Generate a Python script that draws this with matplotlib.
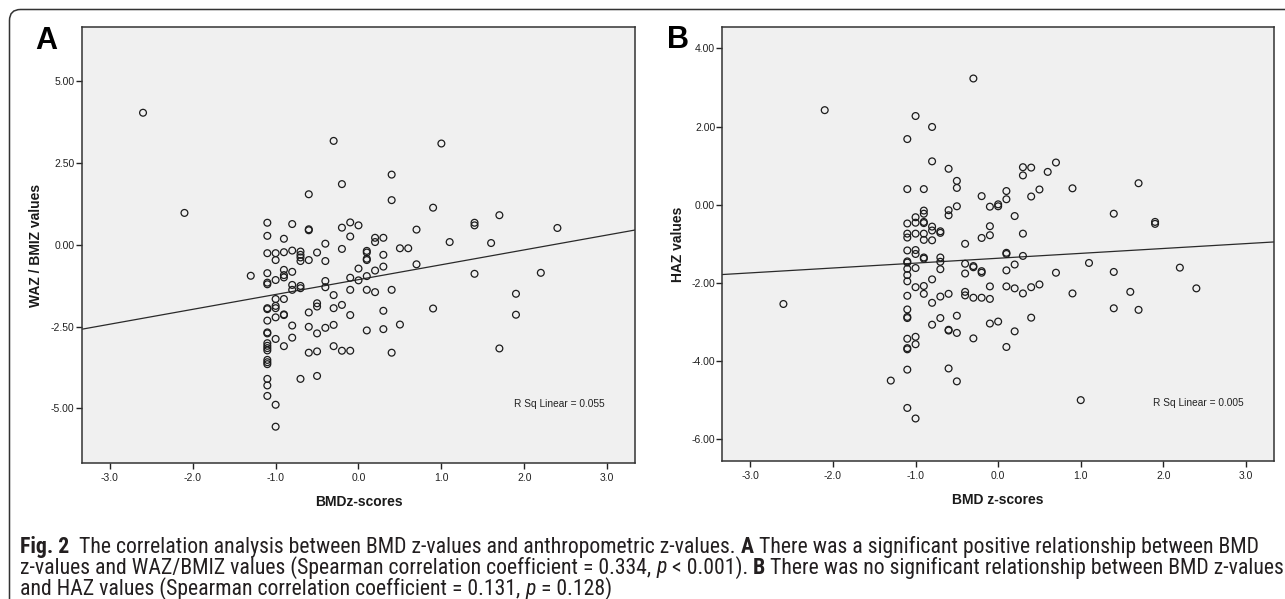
import numpy as np
import matplotlib
matplotlib.use("Agg")
import matplotlib.pyplot as plt
from matplotlib import font_manager
from matplotlib.patches import FancyBboxPatch
from matplotlib.transforms import IdentityTransform

# Panel A: BMD z-scores vs WAZ / BMIZ values
bmd_a = [-2.6, -2.1, -0.3, 1.0, 0.4, -0.2, -0.6, 0.4, 0.9, 1.7,
         1.4, 1.4, 2.4, -1.1, -0.8, -0.6, -0.6, -0.2, -0.1, 0.0,
         0.7, -1.1, -0.9, -0.1, 0.2, 0.2, 0.3, 1.1, 1.6, -0.4,
         -1.1, -1.0, -1.0, -0.9, -0.8, -0.7, -0.7, -0.7, -0.7, -0.6,
         -0.5, -0.4, -0.2, 0.1, 0.1, 0.1, 0.1, 0.3, 0.5, 0.6,
         0.0, 0.2, 0.3, 0.7, -1.3, -1.1, -1.1, -1.1, -1.0, -0.9,
         -0.9, -0.9, -0.8, -0.8, -0.8, -0.7, -0.7, -0.4, -0.4, -0.1,
         -0.1, 0.0, 0.1, 0.1, 0.2, 0.4, -0.3, 1.4, 2.2, 1.9,
         -1.0, -0.9, -1.1, -1.1, -1.0, -1.0, -0.9, -0.9, -1.0, -0.5,
         -0.5, -0.3, -0.2, -0.6, -0.1, 0.3, 0.9, 1.9, -1.1, -0.8,
         -0.6, -0.5, -0.4, -0.3, 0.1, 0.3, 0.5, -1.1, -1.1, -0.8,
         -1.0, -1.1, -1.1, -1.1, -1.1, -0.9, -0.3, -0.2, -0.1, -0.6,
         -0.5, 0.4, 1.7, -1.1, -1.1, -1.1, -0.7, -0.5, -1.1, -1.1,
         -1.1, -1.0, -1.0]
waz_a = [4.03, 0.97, 3.17, 3.09, 2.14, 1.85, 1.54, 1.36, 1.13, 0.90,
         0.67, 0.59, 0.51, 0.67, 0.63, 0.47, 0.44, 0.52, 0.68, 0.59,
         0.46, 0.27, 0.18, 0.25, 0.21, 0.08, 0.21, 0.08, 0.05, 0.03,
         -0.26, -0.26, -0.47, -0.23, -0.18, -0.21, -0.31, -0.39, -0.50, -0.47,
         -0.24, -0.50, -0.13, -0.19, -0.24, -0.43, -0.47, -0.31, -0.11, -0.11,
         -0.73, -0.79, -0.67, -0.60, -0.95, -0.87, -1.16, -1.21, -1.08, -0.77,
         -0.93, -1.00, -0.83, -1.23, -1.38, -1.26, -1.33, -1.11, -1.30, -1.01,
         -1.38, -1.09, -0.96, -1.38, -1.45, -1.38, -1.54, -0.89, -0.86, -1.50,
         -1.66, -1.66, -1.94, -1.97, -1.87, -1.94, -2.13, -2.15, -2.22, -1.79,
         -1.89, -1.94, -1.84, -2.07, -2.15, -2.02, -1.95, -2.14, -2.32, -2.47,
         -2.51, -2.71, -2.54, -2.45, -2.62, -2.58, -2.44, -2.68, -2.71, -2.84,
         -2.88, -3.01, -3.09, -3.16, -3.23, -3.10, -3.10, -3.24, -3.24, -3.30,
         -3.26, -3.30, -3.17, -3.52, -3.59, -3.65, -4.10, -4.01, -4.10, -4.30,
         -4.62, -4.89, -5.56]

# Panel B: BMD z-scores vs HAZ values
bmd_b = [-0.3, -2.1, -1.0, -0.8, -1.1, -0.8, -0.6, 0.3, 0.3, 0.4,
         0.7, 0.6, -0.5, -0.5, -1.1, -0.9, 0.5, 0.9, 1.7, 0.1,
         0.1, -0.2, 0.4, -0.5, -0.1, 0.0, 0.0, -0.6, -0.6, -0.9,
         -0.9, -1.0, 1.4, 0.2, -1.1, -1.0, -0.9, -0.9, -0.8, -0.8,
         -0.7, -0.7, -0.1, -0.1, 1.9, 1.9, -1.1, -1.1, -1.0, -0.9,
         -0.9, -0.8, -0.2, 0.3, -0.4, -1.1, -1.0, -1.0, 0.1, 0.1,
         -0.9, -0.9, -0.7, -0.7, 0.3, -1.1, -1.1, 1.1, -0.4, -0.3,
         -0.3, 0.2, -1.0, 2.2, -1.1, -1.1, -0.7, -0.2, -0.2, -0.4,
         0.1, 0.7, 1.4, -0.8, -1.1, -1.0, -0.9, -0.1, 0.1, 0.2,
         0.4, 0.5, 2.4, 1.6, -0.9, -1.1, -0.7, -0.6, -0.4, -0.4,
         -0.3, -0.2, -0.1, 0.3, 0.9, -2.6, -0.8, -1.1, 1.4, 1.7,
         -1.1, -1.1, -0.7, -0.5, 0.4, -0.8, -0.1, 0.0, -0.6, -0.6,
         -0.5, 0.2, -0.3, -1.0, -1.1, -1.0, -1.1, -1.1, 0.1, -0.6,
         -1.1, -1.3, -0.5, 1.0, -1.1, -1.0]
haz_b = [3.23, 2.42, 2.27, 1.99, 1.68, 1.11, 0.92, 0.96, 0.75, 0.95,
         1.08, 0.84, 0.61, 0.43, 0.40, 0.40, 0.39, 0.42, 0.55, 0.35,
         0.14, 0.22, 0.21, -0.04, -0.05, 0.01, -0.04, -0.14, -0.27, -0.15,
         -0.23, -0.32, -0.23, -0.29, -0.48, -0.46, -0.44, -0.47, -0.56, -0.66,
         -0.68, -0.72, -0.55, -0.78, -0.44, -0.49, -0.74, -0.84, -0.74, -0.74,
         -0.90, -0.91, -0.85, -0.74, -1.00, -1.17, -1.16, -1.26, -1.23, -1.26,
         -1.35, -1.38, -1.35, -1.46, -1.31, -1.45, -1.48, -1.49, -1.51, -1.57,
         -1.60, -1.53, -1.62, -1.61, -1.64, -1.80, -1.65, -1.70, -1.74, -1.76,
         -1.68, -1.74, -1.72, -1.91, -1.96, -2.11, -2.08, -2.09, -2.09, -2.14,
         -2.11, -2.04, -2.14, -2.23, -2.28, -2.33, -2.35, -2.28, -2.23, -2.32,
         -2.38, -2.38, -2.41, -2.27, -2.27, -2.54, -2.51, -2.68, -2.65, -2.69,
         -2.87, -2.90, -2.90, -2.84, -2.89, -3.07, -3.04, -2.99, -3.20, -3.22,
         -3.28, -3.24, -3.42, -3.38, -3.43, -3.57, -3.67, -3.70, -3.64, -4.19,
         -4.22, -4.50, -4.52, -5.00, -5.20, -5.47]

xticks = [-3.0, -2.0, -1.0, 0.0, 1.0, 2.0, 3.0]
yticks_a = [-5.0, -2.5, 0.0, 2.5, 5.0]
yticks_b = [-6.0, -4.0, -2.0, 0.0, 2.0, 4.0]
r2_a = 0.055
r2_b = 0.005

W, H = 1285, 599
plt.rcParams['axes.unicode_minus'] = False
plt.rcParams['font.family'] = ['Liberation Sans', 'DejaVu Sans']

names = {f.name for f in font_manager.fontManager.ttflist}
cap_font = next((n for n in ['Liberation Sans Narrow', 'Roboto Condensed', 'Roboto']
                 if n in names), 'DejaVu Sans')

fig = plt.figure(figsize=(W / 100, H / 100), dpi=100)


def px_box(left, top, right, bottom):
    return [left / W, 1 - bottom / H, (right - left) / W, (bottom - top) / H]


def panel(ax, x, y, ylim, yticks, r2, xlabel, ylabel, ylab_x, xlab_y):
    ax.set_facecolor('#f0f0f0')
    ax.scatter(x, y, s=24, facecolors='none', edgecolors='#1c1c1c',
               linewidths=0.9, zorder=3)
    k, b = np.polyfit(x, y, 1)
    xs = np.array([-3.34, 3.34])
    ax.plot(xs, k * xs + b, color='#2a2a2a', lw=0.9, zorder=2)
    ax.set_xlim(-3.34, 3.34)
    ax.set_ylim(*ylim)
    ax.set_xticks(xticks)
    ax.set_yticks(yticks)
    ax.set_xticklabels([f"{v:.1f}" for v in xticks])
    ax.set_yticklabels([f"{v:.2f}" for v in yticks])
    ax.tick_params(direction='out', length=4.3, width=1.0, labelsize=7.5,
                   color='#222222', labelcolor='#222222')
    ax.tick_params(axis='x', pad=3.2)
    ax.tick_params(axis='y', pad=0.8)
    for sp in ax.spines.values():
        sp.set_color('#333333')
        sp.set_linewidth(1.1)
    ax.text(0.781, 0.134, f"R Sq Linear = {r2:.3f}", transform=ax.transAxes,
            fontsize=7.3, color='#222222', ha='left', va='center')
    bb = ax.get_position()
    fig.text(ylab_x / W, bb.y0 + bb.height / 2, ylabel, rotation=90,
             fontsize=10, fontweight='bold', ha='center', va='center', color='#1a1a1a')
    fig.text(bb.x0 + bb.width / 2, 1 - xlab_y / H, xlabel,
             fontsize=10, fontweight='bold', ha='center', va='center', color='#1a1a1a')


ax1 = fig.add_axes(px_box(81.7, 27.3, 635.3, 462.7))
panel(ax1, bmd_a, waz_a, (-6.66, 6.64), yticks_a, r2_a,
      "BMDz-scores", "WAZ / BMIZ values", 36.5, 502)

ax2 = fig.add_axes(px_box(722.3, 27.3, 1274, 460.7))
panel(ax2, bmd_b, haz_b, (-6.55, 4.54), yticks_b, r2_b,
      "BMD z-scores", "HAZ values", 678, 500)

fig.text(46 / W, 1 - 41 / H, "A", fontsize=22, fontweight='bold', ha='center', va='center')
fig.text(678 / W, 1 - 40.5 / H, "B", fontsize=22, fontweight='bold', ha='center', va='center')

# rounded frame of the figure box (only top and left edges visible)
frame = FancyBboxPatch((9.5, -50), 1400, H - 9.5 + 50, boxstyle="round,pad=0,rounding_size=11",
                       transform=IdentityTransform(), fill=False, edgecolor='#333333', lw=1.1)
fig.patches.append(frame)

# caption
renderer = fig.canvas.get_renderer()
cap_lines = [
    [("Fig. 2", 'bold', 'normal'),
     ("  The correlation analysis between BMD z-values and anthropometric z-values. ", 'normal', 'normal'),
     ("A", 'bold', 'normal'),
     (" There was a significant positive relationship between BMD", 'normal', 'normal')],
    [("z-values and WAZ/BMIZ values (Spearman correlation coefficient = 0.334, ", 'normal', 'normal'),
     ("p", 'normal', 'italic'),
     (" < 0.001). ", 'normal', 'normal'),
     ("B", 'bold', 'normal'),
     (" There was no significant relationship between BMD z-values", 'normal', 'normal')],
    [("and HAZ values (Spearman correlation coefficient = 0.131, ", 'normal', 'normal'),
     ("p", 'normal', 'italic'),
     (" = 0.128)", 'normal', 'normal')],
]
cap_y = [547, 568, 589]


def seg_width(s, size, weight, style):
    t = fig.text(0, 0, s + "|", fontsize=size, fontweight=weight, fontstyle=style, family=cap_font)
    bar = fig.text(0, 0, "|", fontsize=size, fontweight=weight, fontstyle=style, family=cap_font)
    w = t.get_window_extent(renderer).width - bar.get_window_extent(renderer).width
    t.remove()
    bar.remove()
    return w


size0 = 10
w0 = sum(seg_width(s, size0, wt, st) for s, wt, st in cap_lines[0])
cap_size = size0 * (1238 / w0)

for parts, yy in zip(cap_lines, cap_y):
    x = 20.0
    for s, wt, st in parts:
        fig.text(x / W, 1 - yy / H, s, fontsize=cap_size, fontweight=wt, fontstyle=st,
                 family=cap_font, ha='left', va='center', color='#231f20')
        x += seg_width(s, cap_size, wt, st)

fig.savefig("out.png", dpi=100)
